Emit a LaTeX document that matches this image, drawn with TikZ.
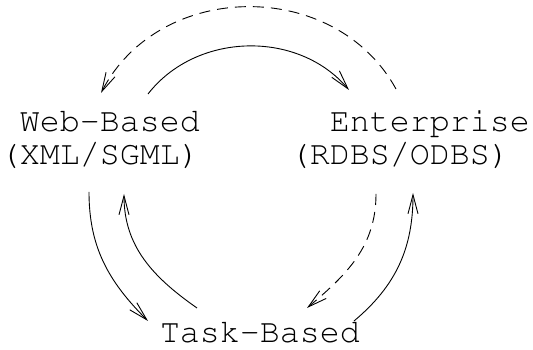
\documentclass[tikz,border=0pt]{standalone}
\usepackage[T1]{fontenc}
\usepackage{courier}
\usetikzlibrary{arrows.meta,calc}
\tikzset{
  lbl/.style={inner sep=0pt, outer sep=0pt, align=left, anchor=base west,
    font=\fontsize{33.3pt}{33pt}\selectfont\ttfamily},
  conn/.style={line width=0.9pt, -{Straight Barb[length=19pt,width=10pt,line width=0.9pt]}},
  dashline/.style={dash pattern=on 11pt off 7pt}
}
\begin{document}
\begin{tikzpicture}[x=1pt,y=1pt]
\useasboundingbox (0,0) rectangle (533,350);
\node[lbl] (web) at (0,185) {\phantom{W}Web-Based\\(XML/SGML)};
\node[lbl] (ent) at (290,185) {\phantom{WW}Enterprise\\(RDBS/ODBS)};
\node[lbl] (task) at (160,7) {Task-Based};
% top arcs
\draw[conn] ($(web.base west)+(148,71)$) to[bend left=51] ($(ent.base west)+(59,75)$);
\draw[conn,dashline] ($(ent.base west)+(106,76)$) to[bend right=62,looseness=1.1] ($(web.base west)+(101,72)$);
% left arcs
\draw[conn] ($(web.base west)+(89,-27)$) to[out=-90,in=135] ($(task.base west)+(-12,22)$);
\draw[conn] ($(task.base west)+(37,35)$) to[out=145,in=-90] ($(web.base west)+(124,-29)$);
% right arcs
\draw[conn,dashline] ($(ent.base west)+(86,-29)$) to[out=-90,in=40] ($(task.base west)+(147,35)$);
\draw[conn] ($(task.base west)+(194,22)$) to[out=40,in=-90] ($(ent.base west)+(123,-28)$);
\end{tikzpicture}
\end{document}
